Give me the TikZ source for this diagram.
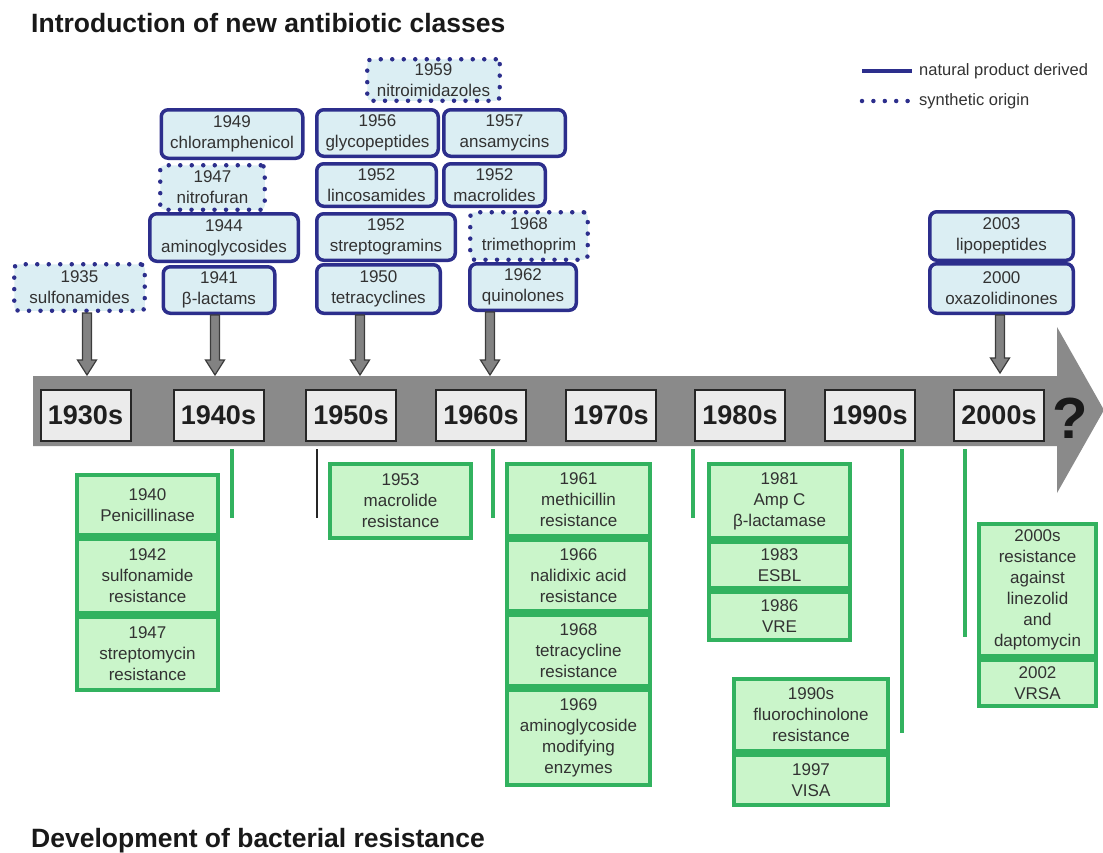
\documentclass[tikz,border=0pt]{standalone}
\usepackage{fontspec}
\setmainfont{Liberation Sans}
\usetikzlibrary{calc}
\definecolor{navy}{RGB}{44,46,140}
\definecolor{lblue}{RGB}{219,238,243}
\definecolor{grn}{RGB}{50,178,95}
\definecolor{lgreen}{RGB}{202,245,202}
\definecolor{bandgray}{RGB}{138,138,138}
\definecolor{decfill}{RGB}{235,235,235}
\definecolor{txt}{RGB}{50,50,50}
\definecolor{arrgray}{RGB}{130,130,130}
\definecolor{arrline}{RGB}{60,60,60}
\newcommand\blockarr[2]{%
  \filldraw[barrow] ($(#1)+(-4.5,0)$) -- ($(#2)+(-4.5,-15)$) -- ($(#2)+(-9.5,-15)$) -- (#2)
    -- ($(#2)+(9.5,-15)$) -- ($(#2)+(4.5,-15)$) -- ($(#1)+(4.5,0)$) -- cycle;}
\begin{document}
\begin{tikzpicture}[x=1pt,y=-1pt,
  abox/.style={rectangle, align=center, inner sep=0pt, text=txt, font=\fontsize{17}{21}\selectfont},
  nat/.style={abox, draw=navy, line width=3.5pt, rounded corners=7pt, fill=lblue},
  syn/.style={abox, draw=navy, line width=4.5pt, dash pattern=on 0pt off 11.5pt, line cap=round, rounded corners=4pt, fill=lblue},
  res/.style={abox, draw=grn, line width=4pt, fill=lgreen},
  dec/.style={rectangle, draw=black!85, line width=2pt, fill=decfill, inner sep=0pt,
    font=\bfseries\fontsize{27}{30}\selectfont, text=black!88, minimum width=90pt, minimum height=51pt},
  barrow/.style={fill=arrgray, draw=arrline, line width=1.2pt, line join=miter},
  sep/.style={draw=grn, line width=4pt},
  title/.style={anchor=base west, inner sep=0pt, font=\bfseries\fontsize{26.5}{30}\selectfont, text=black!90},
  legtext/.style={anchor=west, inner sep=0pt, font=\fontsize{16.5}{20}\selectfont, text=txt}]
\useasboundingbox (0,0) rectangle (1103,852);

% titles
\node[title] (title1) at (31,32) {Introduction of new antibiotic classes};
\node[title] (title2) at (31,847) {Development of bacterial resistance};

% legend
\coordinate (la) at (862,71); \coordinate (lb) at (912,71);
\draw[navy, line width=4pt] (la) -- (lb);
\node[legtext] (lt1) at (919,71) {natural product derived};
\coordinate (lc) at (862,101); \coordinate (ld) at (908,101);
\draw[navy, line width=4.5pt, dash pattern=on 0pt off 11.4pt, line cap=round] (lc) -- (ld);
\node[legtext] (lt2) at (919,101) {synthetic origin};

% timeline band
\fill[bandgray] (33,376) -- (1057,376) -- (1057,327) -- (1104,410) -- (1057,493) -- (1057,446) -- (33,446) -- cycle;
\foreach \n/\x/\t in {d30/85.5/1930s, d40/218.5/1940s, d50/351/1950s, d60/481/1960s,
                      d70/611/1970s, d80/740/1980s, d90/870/1990s, d00/999/2000s}
  \node[dec] (\n) at (\x,415.5) {\t};
\node[inner sep=0pt, font=\bfseries\fontsize{58}{60}\selectfont, text=black!90] (qm) at (1070,418) {?};

% top: new antibiotic classes
\node[syn, minimum width=130.5pt, minimum height=46.5pt] (sulf) at (79.5,287.5) {1935\\sulfonamides};
\node[nat, minimum width=111.5pt, minimum height=46.5pt] (blac) at (219,290) {1941\\β-lactams};
\node[nat, minimum width=148.5pt, minimum height=47.5pt] (amin) at (224,237.5) {1944\\aminoglycosides};
\node[syn, minimum width=104.5pt, minimum height=44.5pt] (nitf) at (212.5,187.5) {1947\\nitrofuran};
\node[nat, minimum width=141.5pt, minimum height=48.5pt] (chlo) at (232,134) {1949\\chloramphenicol};
\node[syn, minimum width=132.5pt, minimum height=41.5pt] (nitr) at (433.5,80) {1959\\nitroimidazoles};
\node[nat, minimum width=121.5pt, minimum height=46.5pt] (glyc) at (377.5,133) {1956\\glycopeptides};
\node[nat, minimum width=121.5pt, minimum height=46.5pt] (ansa) at (504.5,133) {1957\\ansamycins};
\node[nat, minimum width=119.5pt, minimum height=42.5pt] (linc) at (376.5,185) {1952\\lincosamides};
\node[nat, minimum width=101.5pt, minimum height=42.5pt] (macr) at (494.5,185) {1952\\macrolides};
\node[nat, minimum width=138.5pt, minimum height=46.5pt] (strp) at (386,237) {1952\\streptogramins};
\node[syn, minimum width=117.5pt, minimum height=47.5pt] (trim) at (529,236) {1968\\trimethoprim};
\node[nat, minimum width=123.5pt, minimum height=48.5pt] (tetr) at (378.5,289) {1950\\tetracyclines};
\node[nat, minimum width=106.5pt, minimum height=46.5pt] (quin) at (523,287) {1962\\quinolones};
\node[nat, minimum width=143.5pt, minimum height=48.5pt] (lipo) at (1001.5,236) {2003\\lipopeptides};
\node[nat, minimum width=143.5pt, minimum height=49.5pt] (oxaz) at (1001.5,288.5) {2000\\oxazolidinones};

% block arrows from class boxes down to the timeline
\coordinate (a1t) at (87,0 |- sulf.south);   \coordinate (a1h) at (87,375);
\coordinate (a2t) at (215,0 |- blac.south);  \coordinate (a2h) at (215,375);
\coordinate (a3t) at (360,0 |- tetr.south);  \coordinate (a3h) at (360,375);
\coordinate (a4t) at (490,0 |- quin.south);  \coordinate (a4h) at (490,375);
\coordinate (a5t) at (1000,0 |- oxaz.south); \coordinate (a5h) at (1000,373);
\blockarr{a1t}{a1h}
\blockarr{a2t}{a2h}
\blockarr{a3t}{a3h}
\blockarr{a4t}{a4h}
\blockarr{a5t}{a5h}

% separator lines below the band
\draw[sep] (232,449) -- (232,518);
\draw[black!85, line width=1.5pt] (317,449) -- (317,518);
\draw[sep] (493,449) -- (493,518);
\draw[sep] (693,449) -- (693,518);
\draw[sep] (902,449) -- (902,733);
\draw[sep] (965,449) -- (965,637);

% bottom: resistance
\node[res, minimum width=141pt, minimum height=60pt] (pen) at (147.5,505) {1940\\Penicillinase};
\node[res, minimum width=141pt, minimum height=74pt] (sulr) at (147.5,576) {1942\\sulfonamide\\resistance};
\node[res, minimum width=141pt, minimum height=73pt] (strr) at (147.5,653.5) {1947\\streptomycin\\resistance};
\node[res, minimum width=141pt, minimum height=74pt] (mcrr) at (400.5,501) {1953\\macrolide\\resistance};
\node[res, minimum width=143pt, minimum height=72pt] (meth) at (578.5,500) {1961\\methicillin\\resistance};
\node[res, minimum width=143pt, minimum height=71pt] (nali) at (578.5,575.5) {1966\\nalidixic acid\\resistance};
\node[res, minimum width=143pt, minimum height=71pt] (tetrr) at (578.5,650.5) {1968\\tetracycline\\resistance};
\node[res, minimum width=143pt, minimum height=95pt] (amgm) at (578.5,737.5) {1969\\aminoglycoside\\modifying\\enzymes};
\node[res, minimum width=141pt, minimum height=74pt] (ampc) at (779.5,501) {1981\\Amp C\\β-lactamase};
\node[res, minimum width=141pt, minimum height=46pt] (esbl) at (779.5,565) {1983\\ESBL};
\node[res, minimum width=141pt, minimum height=48pt] (vre) at (779.5,616) {1986\\VRE};
\node[res, minimum width=154pt, minimum height=72pt] (fluo) at (811,715) {1990s\\fluorochinolone\\resistance};
\node[res, minimum width=154pt, minimum height=50pt] (visa) at (811,780) {1997\\VISA};
\node[res, minimum width=117pt, minimum height=132pt] (r2000) at (1037.5,590) {2000s\\resistance\\against\\linezolid\\and\\daptomycin};
\node[res, minimum width=117pt, minimum height=46pt] (vrsa) at (1037.5,683) {2002\\VRSA};
\end{tikzpicture}
\end{document}
